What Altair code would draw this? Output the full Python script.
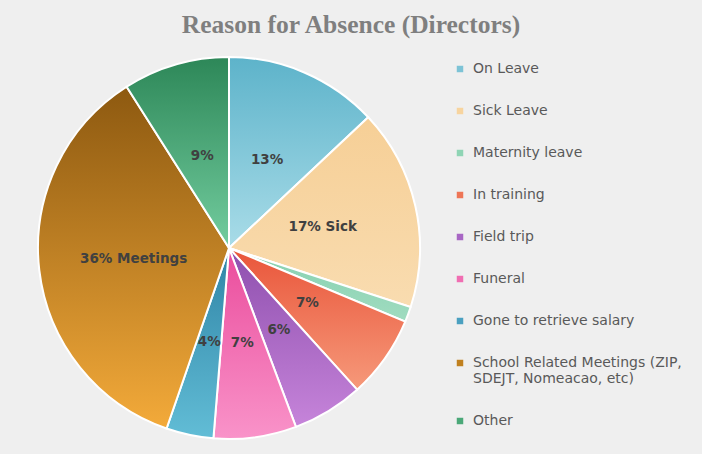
import altair as alt
import pandas as pd

categories = ["On Leave", "Sick Leave", "Maternity leave", "In training", "Field trip",
              "Funeral", "Gone to retrieve salary",
              "School Related Meetings (ZIP,|SDEJT, Nomeacao, etc)", "Other"]
values = [13, 17, 1.3, 7, 6, 7, 4, 35.7, 9]
labels = ["13%", "17% Sick", "", "7%", "6%", "7%", "4%", "36% Meetings", "9%"]
top_colors = ["#5db3ca", "#f6cf96", "#86d0b0", "#e9553a", "#8e4fae", "#ea4c9c",
              "#2f84a6", "#8d5910", "#2d8758"]
bottom_colors = ["#a9dce8", "#f9dcb0", "#a0dcc0", "#f6997a", "#c684da", "#f993c9",
                 "#62bdd6", "#f3aa3a", "#73cd9f"]
legend_colors = ["#7dc3d6", "#f7d49f", "#8fd4b4", "#ee7556", "#a866c4", "#f06eb2",
                 "#4aa0c0", "#c0801f", "#4aa878"]

ends = pd.Series(values).cumsum()
df = pd.DataFrame({
    "category": categories,
    "value": values,
    "start": ends - pd.Series(values),
    "end": ends,
    "label": labels,
})
df["mid"] = (df["start"] + df["end"]) / 2

CX, CY, R = 229, 203, 191
theta_scale = alt.Scale(domain=[0, sum(values)], range=[0, 6.283185307179586], zero=False, nice=False)

base = alt.Chart(df)

arcs = []
for cat, c1, c2 in zip(categories, top_colors, bottom_colors):
    grad = {"gradient": "linear", "x1": 0, "y1": 0, "x2": 0, "y2": 1,
            "stops": [{"offset": 0, "color": c1}, {"offset": 1, "color": c2}]}
    arcs.append(
        base.transform_filter(alt.datum.category == cat)
        .mark_arc(fill=grad, stroke="white", strokeWidth=2, outerRadius=R)
        .encode(
            theta=alt.Theta("start:Q", scale=theta_scale),
            theta2="end:Q",
            x=alt.value(CX), y=alt.value(CY),
        )
    )

legend_layer = base.mark_point(shape="square", filled=True, opacity=0).encode(
    x=alt.value(CX), y=alt.value(CY),
    color=alt.Color("category:N", sort=categories,
                    scale=alt.Scale(domain=categories, range=legend_colors),
                    legend=alt.Legend(
                        title=None, orient="none", legendX=453, legendY=17,
                        symbolType="square", symbolSize=42, symbolOpacity=1,
                        symbolStrokeWidth=0, labelFontSize=14, labelFont="DejaVu Sans",
                        labelColor="#595959", labelLimit=400, rowPadding=28,
                        labelOffset=6,
                        labelExpr="split(datum.label, '|')",
                    )),
)

text_layer = base.mark_text(font="DejaVu Sans", fontWeight="bold", fontSize=13.5,
                            color="#404040").encode(
    theta=alt.Theta("mid:Q", scale=theta_scale),
    radius=alt.value(96),
    x=alt.value(CX), y=alt.value(CY),
    text="label:N",
)

chart = alt.layer(*arcs, legend_layer, text_layer).properties(
    width=702, height=409,
    padding={"left": 0, "top": 45, "right": 0, "bottom": 0},
    autosize=alt.AutoSizeParams(type="none"),
    background="#efefef",
    title=alt.TitleParams("Reason for Absence (Directors)", font="Liberation Serif",
                          fontSize=25.5, fontWeight="bold", color="#7f7f7f",
                          anchor="middle", offset=7),
).configure_view(stroke=None)

chart.save("out.html", embed_options={"renderer": "svg", "actions": False})
